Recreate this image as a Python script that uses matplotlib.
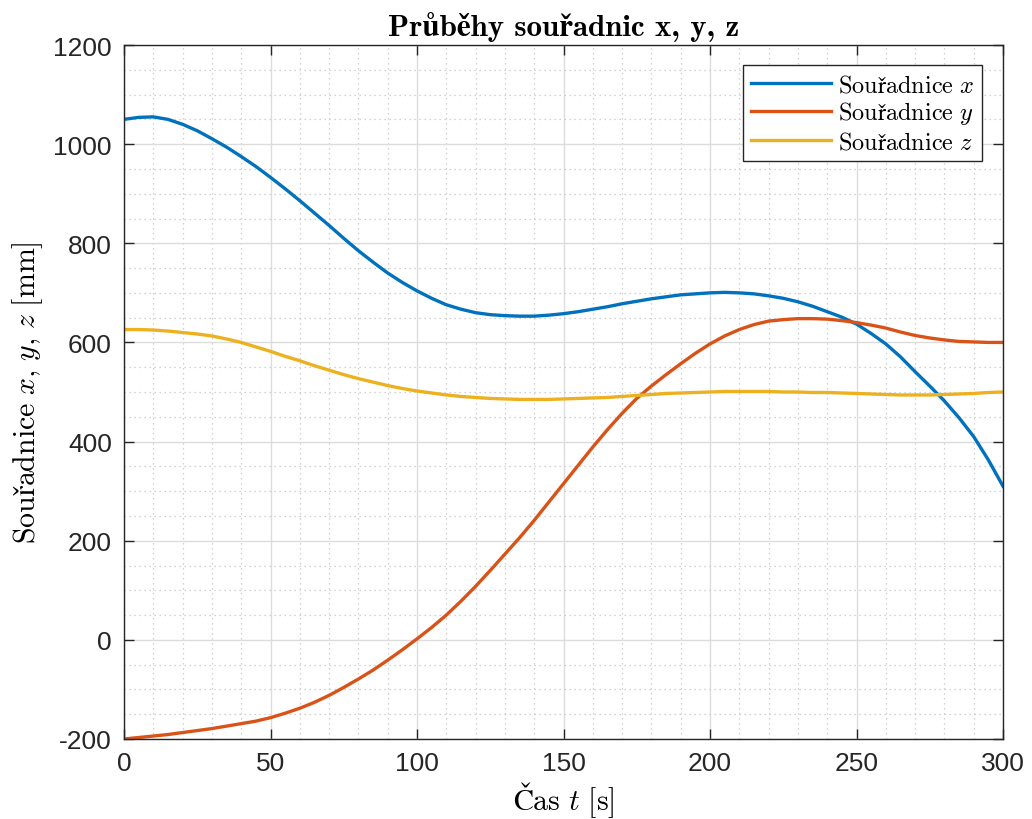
import matplotlib
matplotlib.use("Agg")
import matplotlib.pyplot as plt
from matplotlib.ticker import MultipleLocator

plt.rcParams['mathtext.fontset'] = 'cm'
plt.rcParams['axes.unicode_minus'] = False

# Data (time step 5 s)
t = [0, 5, 10, 15, 20, 25, 30, 35, 40, 45, 50, 55, 60, 65, 70, 75, 80, 85,
     90, 95, 100, 105, 110, 115, 120, 125, 130, 135, 140, 145, 150, 155, 160,
     165, 170, 175, 180, 185, 190, 195, 200, 205, 210, 215, 220, 225, 230,
     235, 240, 245, 250, 255, 260, 265, 270, 275, 280, 285, 290, 295, 300]
x_vals = [1050, 1054, 1055, 1050, 1040, 1027, 1011, 994, 975, 955, 933, 910,
          886, 861, 836, 810, 785, 762, 740, 721, 704, 689, 676, 667, 660, 656,
          654, 653, 653, 655, 658, 662, 667, 672, 678, 683, 688, 692, 696, 698,
          700, 701, 700, 698, 694, 689, 682, 673, 662, 651, 637, 618, 597, 571,
          541, 512, 482, 448, 410, 363, 310]
y_vals = [-200, -197, -194, -191, -187, -183, -179, -174, -169, -164, -157,
          -148, -138, -126, -112, -96, -79, -61, -41, -20, 2, 25, 50, 78, 108,
          140, 173, 206, 241, 278, 315, 352, 389, 424, 457, 487, 512, 535, 557,
          578, 597, 613, 626, 636, 643, 646, 648, 648, 647, 644, 640, 635, 629,
          621, 614, 609, 605, 602, 601, 600, 600]
z_vals = [626, 626, 625, 623, 620, 617, 613, 607, 600, 591, 582, 572, 563, 553,
          544, 535, 527, 520, 513, 507, 502, 498, 494, 491, 489, 487, 486, 485,
          485, 485, 486, 487, 488, 489, 491, 493, 495, 497, 498, 499, 500, 501,
          501, 501, 501, 500, 500, 499, 499, 498, 497, 496, 495, 494, 494, 494,
          495, 496, 497, 499, 500]

labels = [r'$\mathrm{Souřadnice}\ x$', r'$\mathrm{Souřadnice}\ y$',
          r'$\mathrm{Souřadnice}\ z$']
colors = ['#0072BD', '#D95319', '#EDB120']

sans = ['Liberation Sans', 'DejaVu Sans']

fig = plt.figure(figsize=(10.32, 8.2), dpi=100)
ax = fig.add_axes([124 / 1032, 1 - 740 / 820, 879 / 1032, 694 / 820])

for vals, lab, col in zip([x_vals, y_vals, z_vals], labels, colors):
    ax.plot(t, vals, color=col, lw=2.4, label=lab, solid_joinstyle='round')

ax.set_xlim(0, 300)
ax.set_ylim(-200, 1200)
ax.xaxis.set_major_locator(MultipleLocator(50))
ax.xaxis.set_minor_locator(MultipleLocator(10))
ax.yaxis.set_major_locator(MultipleLocator(200))
ax.yaxis.set_minor_locator(MultipleLocator(50))

ax.grid(which='major', color='#dcdcdc', lw=1.0, ls='-')
ax.grid(which='minor', color='#c4c4c4', lw=0.9, ls=(0, (1, 3)))
ax.set_axisbelow(True)

ax.tick_params(which='major', direction='in', length=7, width=1.0,
               color='#262626', top=True, right=True, labelsize=19,
               labelcolor='#262626', pad=8.7)
ax.tick_params(which='minor', length=0)
for lbl in ax.get_xticklabels() + ax.get_yticklabels():
    lbl.set_family(sans)
for sp in ax.spines.values():
    sp.set_color('#262626')
    sp.set_linewidth(1.0)

ax.set_title('Průběhy souřadnic x, y, z', family=['cmb10', 'STIXGeneral'],
             fontweight='bold', fontsize=22.3, pad=7)
ax.set_xlabel(r'$\mathrm{Čas}\ t\ \mathrm{[s]}$', fontsize=21.5, labelpad=3)
ax.set_ylabel(r'$\mathrm{Souřadnice}\ x\mathrm{,}\ y\mathrm{,}\ z\ \mathrm{[mm]}$',
              fontsize=21.5, labelpad=6)

leg = ax.legend(loc='upper right', bbox_to_anchor=(0.976, 0.971),
                prop={'size': 17.5}, fancybox=False, framealpha=1,
                edgecolor='#262626', handlelength=3.3, handletextpad=0.3,
                labelspacing=0.12, borderpad=0.3, borderaxespad=0)
leg.get_frame().set_linewidth(1.0)

fig.savefig('out.png', dpi=100)
